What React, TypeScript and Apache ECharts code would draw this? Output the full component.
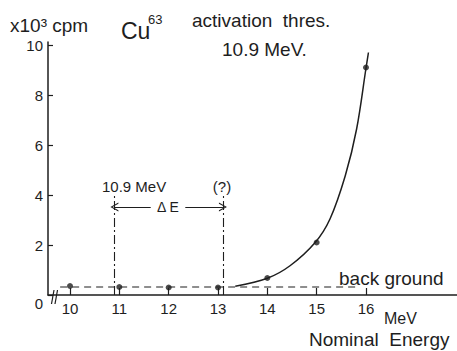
import React, { useEffect, useRef } from 'react';
import * as echarts from 'echarts';

// Tick values
const energyTicks = [10, 11, 12, 13, 14, 15, 16];
const countTicks = [0, 2, 4, 6, 8, 10];

// Measured points (MeV, x10^3 cpm)
const measuredEnergy = [10, 11, 12, 13, 14, 15, 16];
const measuredCounts = [0.36, 0.32, 0.3, 0.3, 0.68, 2.1, 9.1];

// Hand-drawn activation curve
const curveEnergy = [13.35, 14.0, 14.46, 14.97, 15.27, 15.58, 15.81, 16.0, 16.05];
const curveCounts = [0.35, 0.67, 1.17, 2.1, 3.04, 4.77, 6.64, 9.07, 9.7];

// Background level (dashed)
const backgroundEnergy = [9.8, 15.84];
const backgroundCounts = [0.32, 0.32];

// Threshold markers
const thresholdEnergy = 10.9;
const upperEnergy = 13.1;
const markerTop = 3.96;
const arrowLevel = 3.52;

const INK = '#1e1e1e';
const FONT = '"Liberation Sans", Arial, sans-serif';

const zip = (a: number[], b: number[]) => a.map((v, i) => [v, b[i]]);

export default function App() {
  const ref = useRef<HTMLDivElement>(null);
  useEffect(() => {
    const chart = echarts.init(ref.current!, null, { renderer: 'svg' });
    const dashDot = { color: INK, width: 1.1, type: [9, 3, 2, 3] as any };
    const chevron = 'path://M0,10 L5,0 L10,10 L8.6,10 L5,2.6 L1.4,10 Z';
    const txt = (text: string, x: number, y: number, size: number, align = 'left', extra: any = {}) => ({
      type: 'text',
      x,
      y,
      silent: true,
      z: 10,
      style: {
        text,
        fill: INK,
        fontSize: size,
        fontFamily: FONT,
        align,
        verticalAlign: 'middle',
        ...extra,
      },
    });
    chart.setOption({
      animation: false,
      backgroundColor: '#ffffff',
      grid: { left: 48, right: 0, top: 42, bottom: 56 },
      xAxis: {
        type: 'value',
        min: 9.554,
        max: 17.845,
        axisLine: { show: true, lineStyle: { color: INK, width: 1.5 } },
        splitLine: { show: false },
        axisTick: {
          show: true,
          inside: true,
          length: 7,
          customValues: energyTicks,
          lineStyle: { color: INK, width: 1.2 },
        },
        axisLabel: {
          customValues: energyTicks,
          color: INK,
          fontSize: 15,
          fontFamily: FONT,
          margin: 6,
        },
      },
      yAxis: {
        type: 'value',
        min: 0,
        max: 10.12,
        axisLine: { show: true, lineStyle: { color: INK, width: 1.5 } },
        splitLine: { show: false },
        axisTick: {
          show: true,
          inside: true,
          length: 5,
          customValues: countTicks,
          lineStyle: { color: INK, width: 1.2 },
        },
        axisLabel: {
          customValues: countTicks,
          color: INK,
          fontSize: 15,
          fontFamily: FONT,
          margin: 5,
          formatter: (v: number) => (v === 0 ? '{z|0}' : String(v)),
          rich: {
            z: { fontSize: 15, fontFamily: FONT, color: INK, padding: [16, 0, 0, 0] },
          },
        },
      },
      series: [
        {
          type: 'line',
          data: zip(backgroundEnergy, backgroundCounts),
          symbol: 'none',
          silent: true,
          lineStyle: { color: INK, width: 1.1, type: [7, 5] },
        },
        {
          type: 'line',
          data: zip(curveEnergy, curveCounts),
          symbol: 'none',
          smooth: 0.35,
          silent: true,
          lineStyle: { color: INK, width: 1.5 },
        },
        {
          type: 'scatter',
          data: zip(measuredEnergy, measuredCounts),
          symbol: 'circle',
          symbolSize: 6,
          itemStyle: { color: INK },
          silent: true,
        },
        {
          type: 'line',
          data: [],
          silent: true,
          markLine: {
            silent: true,
            animation: false,
            symbol: 'none',
            label: { show: false },
            data: [
              [
                { coord: [thresholdEnergy, 0], lineStyle: dashDot },
                { coord: [thresholdEnergy, markerTop] },
              ],
              [
                { coord: [upperEnergy, 0], lineStyle: dashDot },
                { coord: [upperEnergy, markerTop] },
              ],
              [
                {
                  coord: [thresholdEnergy, arrowLevel],
                  symbol: chevron,
                  symbolSize: [9, 8],
                  lineStyle: { color: INK, width: 1.1, type: 'solid' },
                },
                { coord: [upperEnergy, arrowLevel], symbol: chevron, symbolSize: [9, 8] },
              ],
            ],
          },
        },
      ],
      graphic: [
        // axis break
        { type: 'rect', silent: true, shape: { x: 51, y: 292, width: 7, height: 6 }, style: { fill: '#ffffff' } },
        { type: 'line', silent: true, shape: { x1: 51.5, y1: 304, x2: 54, y2: 290 }, style: { stroke: INK, lineWidth: 1.2 } },
        { type: 'line', silent: true, shape: { x1: 55, y1: 304, x2: 57.5, y2: 290 }, style: { stroke: INK, lineWidth: 1.2 } },
        txt('x10³ cpm', 10, 25, 19),
        txt('Cu', 121, 31, 23),
        txt('63', 148, 19, 13),
        txt('activation  thres.', 192, 20, 19),
        txt('10.9 MeV.', 222, 49, 19),
        txt('10.9 MeV', 102, 186, 15),
        txt('(?)', 222, 186, 15, 'center'),
        txt('Δ E', 168, 207, 14, 'center', { backgroundColor: '#ffffff', padding: [1, 6] }),
        txt('back ground', 339, 278, 19),
        txt('MeV', 384, 318, 16),
        txt('Nominal  Energy', 309, 339, 19),
      ],
    });
    return () => chart.dispose();
  }, []);
  return (
    <div
      ref={ref}
      style={{ position: 'absolute', left: 0, top: 0, width: 457, height: 351 }}
    />
  );
}
